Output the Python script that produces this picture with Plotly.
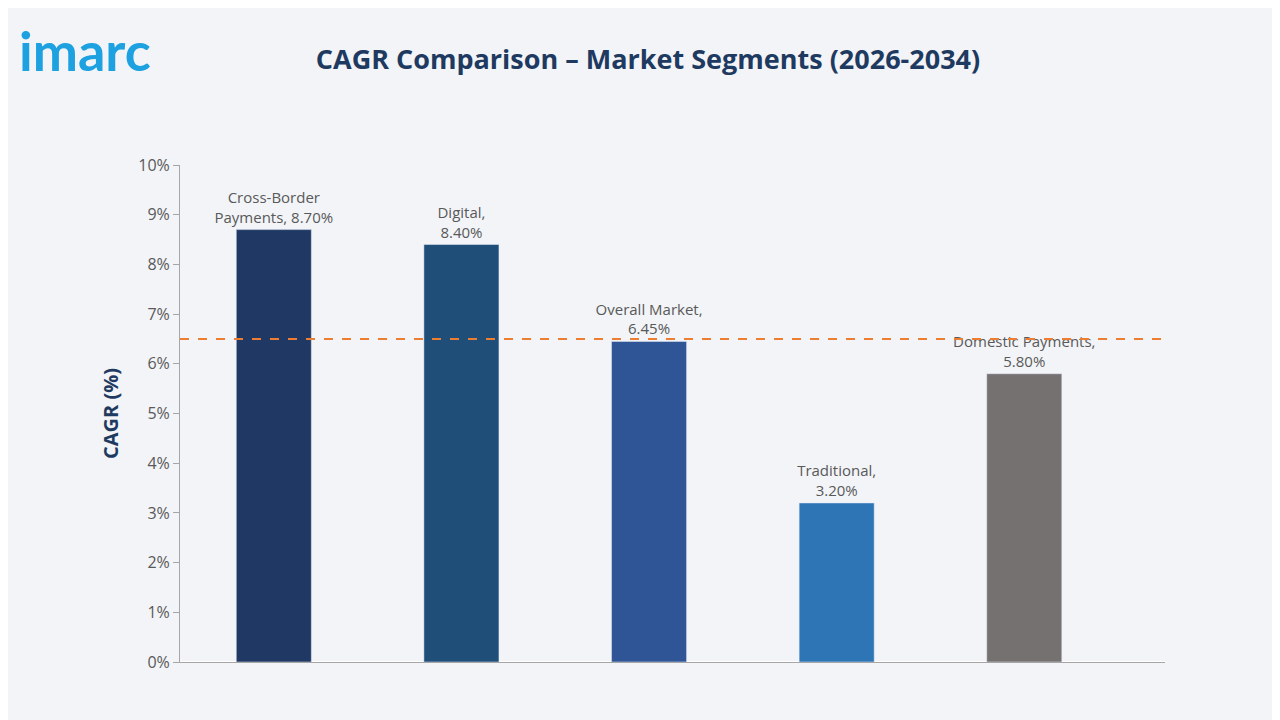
import plotly.graph_objects as go

segments = ["Cross-Border Payments", "Digital", "Overall Market", "Traditional", "Domestic Payments"]
cagr = [8.70, 8.40, 6.45, 3.20, 5.80]
label_text = ["Cross-Border<br>Payments, 8.70%", "Digital,<br>8.40%", "Overall Market,<br>6.45%",
              "Traditional,<br>3.20%", "Domestic Payments,<br>5.80%"]
bar_colors = ["#203864", "#1F4E79", "#2F5597", "#2E75B6", "#767171"]
reference_line = 6.5
y_ticks = [0, 1, 2, 3, 4, 5, 6, 7, 8, 9, 10]

fig = go.Figure()
fig.add_trace(go.Bar(
    x=segments, y=cagr, marker_color=bar_colors, width=0.4,
    text=label_text, textposition="outside", cliponaxis=False,
    textfont=dict(family="Open Sans", size=15, color="#595959"),
))

fig.update_layout(
    width=1280, height=720,
    paper_bgcolor="#F2F4F8", plot_bgcolor="#F2F4F8",
    margin=dict(l=172, r=123, t=157, b=66, autoexpand=False),
    showlegend=False,
    uniformtext=dict(minsize=15, mode="show"),
    title=dict(text="<b>CAGR Comparison – Market Segments (2026-2034)</b>",
               x=0.5, xanchor="center", y=0.928, yanchor="middle",
               font=dict(family="Open Sans", size=27, color="#1F3A60")),
    font=dict(family="Open Sans"),
)
fig.add_shape(type="line", xref="paper", yref="y", x0=0, x1=1.005,
              y0=reference_line, y1=reference_line,
              line=dict(color="#ED7D31", width=2, dash="dash"))
fig.add_annotation(text="<b>imarc</b>", xref="paper", yref="paper", x=-0.165, y=1.23,
                   xanchor="left", yanchor="middle", showarrow=False,
                   font=dict(family="Lato", size=54, color="#1DA1E0"))

fig.update_xaxes(showticklabels=False, showline=True, linecolor="#A6A6A6",
                 ticks="", showgrid=False, range=[-0.5, 4.75])
fig.update_yaxes(range=[0, 10], tickvals=y_ticks, ticktext=[f"{v}%" for v in y_ticks],
                 showgrid=False, showline=True, linecolor="#A6A6A6",
                 ticks="outside", ticklen=6, tickcolor="#A6A6A6",
                 tickfont=dict(size=16, color="#595959"),
                 title=dict(text="<b>CAGR (%)</b>", font=dict(size=20, color="#1F3A60"), standoff=14))

fig.write_html("out.html")
